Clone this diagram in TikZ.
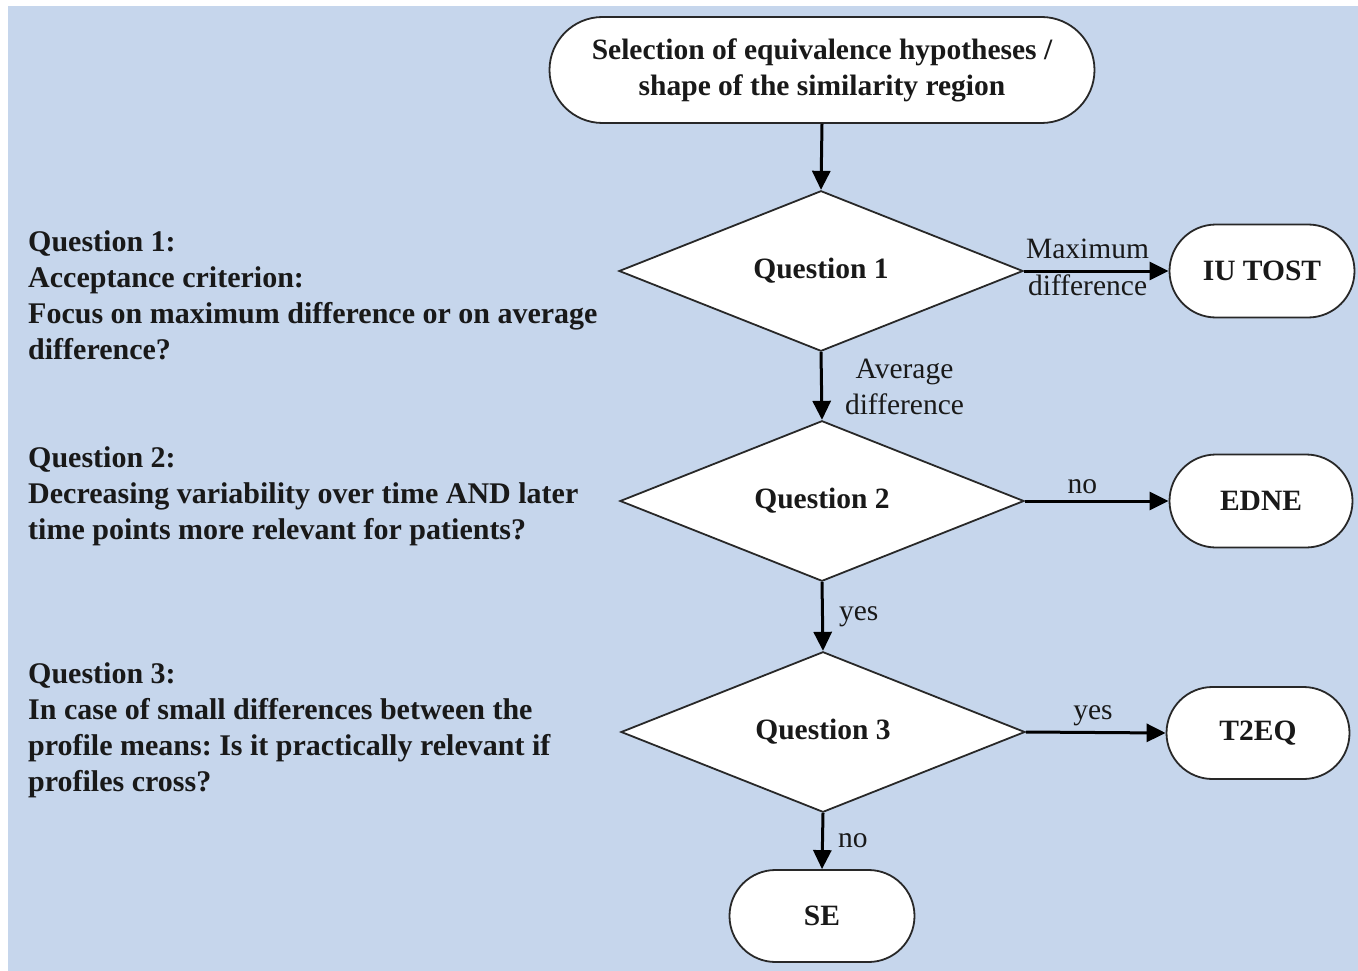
\documentclass[tikz,border=0pt]{standalone}
\usepackage{fontspec}
\setmainfont{Liberation Serif}
\usetikzlibrary{shapes.geometric,shapes.misc,arrows.meta}
\definecolor{bgblue}{RGB}{198,214,236}
\definecolor{ln}{RGB}{40,40,40}
\definecolor{tx}{RGB}{25,25,25}
\frenchspacing
\begin{document}
\begin{tikzpicture}[x=1pt,y=-1pt,
  term/.style={rounded rectangle, draw=ln, line width=1.8pt, fill=white, inner sep=0pt, align=center, text=tx, font=\fontsize{29.5}{36}\selectfont\bfseries},
  dec/.style={diamond, draw=ln, line width=1.8pt, fill=white, inner sep=0pt, minimum width=404pt, minimum height=154pt, text=tx, font=\fontsize{29.5}{36}\selectfont\bfseries},
  arr/.style={line width=3pt, draw=black, -{Triangle[length=19pt,width=18pt]}},
  lbl/.style={inner sep=0pt, text=tx, font=\fontsize{29.5}{36}\selectfont},
  qtext/.style={inner sep=0pt, align=left, anchor=base west, text=tx, font=\fontsize{30}{36}\selectfont\bfseries}]
\useasboundingbox (0,0) rectangle (1358,971);
\fill[white] (0,0) rectangle (1358,971);
\fill[bgblue] (8,6) rectangle (1358,971);

\node[term, minimum width=545pt, minimum height=106pt] (top) at (822,70) {Selection of equivalence hypotheses /\\shape of the similarity region};
\node[dec] (q1) at (821,271) {Question 1};
\node[dec] (q2) at (822,501) {Question 2};
\node[dec] (q3) at (823,732) {Question 3};
\node[term, minimum width=185pt, minimum height=93pt] (iu) at (1262,271) {IU TOST};
\node[term, minimum width=183pt, minimum height=93pt] (edne) at (1261,501) {EDNE};
\node[term, minimum width=183pt, minimum height=92pt] (t2eq) at (1258,733) {T2EQ};
\node[term, minimum width=185pt, minimum height=92pt] (se) at (822,916) {SE};

\draw[arr] (top.south) -- (q1.north);
\draw[arr] (q1.east) -- node[lbl, pos=0.44, anchor=base, yshift=13pt] {Maximum}
                       node[lbl, pos=0.44, anchor=base, yshift=-24pt] {difference} (iu.west);
\draw[arr] (q1.south) -- node[lbl, pos=0.5, anchor=west, align=center, xshift=22pt, yshift=-1pt] {Average\\difference} (q2.north);
\draw[arr] (q2.east) -- node[lbl, pos=0.4, anchor=base, yshift=8pt] {no} (edne.west);
\draw[arr] (q2.south) -- node[lbl, pos=0.5, anchor=base west, xshift=15pt, yshift=-4pt] {yes} (q3.north);
\draw[arr] (q3.east) -- node[lbl, pos=0.48, anchor=base, yshift=13pt] {yes} (t2eq.west);
\draw[arr] (q3.south) -- node[lbl, pos=0.5, anchor=base west, xshift=14pt, yshift=-6pt] {no} (se.north);

\node[qtext] (t1) at (28,359) {Question 1:\\Acceptance criterion:\\Focus on maximum difference or on average\\difference?};
\node[qtext] (t2) at (28,539) {Question 2:\\Decreasing variability over time AND later\\time points more relevant for patients?};
\node[qtext] (t3) at (28,791) {Question 3:\\In case of small differences between the\\profile means: Is it practically relevant if\\profiles cross?};
\end{tikzpicture}
\end{document}
